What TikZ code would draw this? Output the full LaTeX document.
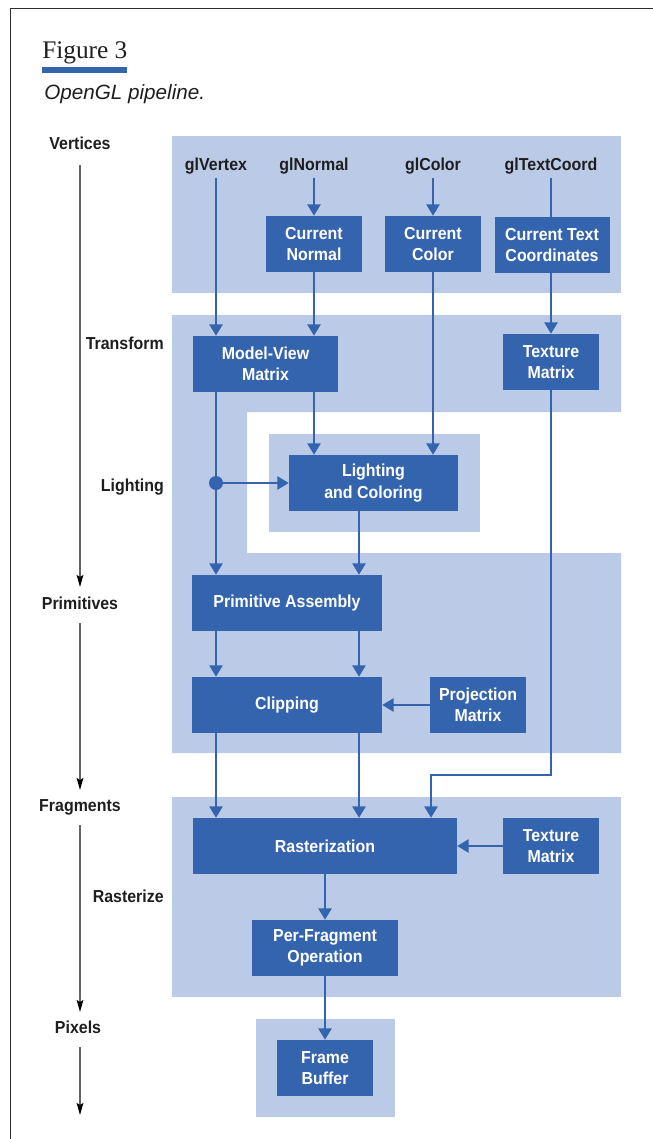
\documentclass[tikz,border=0pt]{standalone}
\usepackage{fontspec}
\setmainfont{Liberation Sans}
\newfontfamily\labfont{Liberation Sans}[FakeStretch=0.92]
\newfontfamily\serfont{Liberation Serif}
\usetikzlibrary{arrows.meta}
\definecolor{lblue}{RGB}{187,203,231}
\definecolor{dblue}{RGB}{53,100,174}
\definecolor{framec}{RGB}{45,45,45}
\definecolor{axisc}{RGB}{100,100,100}
\definecolor{txt}{RGB}{30,30,30}
\begin{document}
\begin{tikzpicture}[x=0.75pt,y=-0.75pt,
  bx/.style={fill=dblue,text=white,font=\labfont\bfseries\fontsize{13}{16}\selectfont,align=center,inner sep=0pt,minimum height=42pt},
  lab/.style={font=\labfont\bfseries\fontsize{13}{16}\selectfont,text=txt,inner sep=0pt},
  arr/.style={draw=dblue,line width=1pt,-{Triangle[width=10pt,length=8.5pt]}},
  ln/.style={draw=dblue,line width=1pt},
  axisarr/.style={draw=axisc,line width=1pt,-{Stealth[width=5pt,length=9pt,inset=1.5pt,color=black]}}
]
\useasboundingbox (0,0) rectangle (653,1139);
% frame
\draw[framec,line width=1.3pt] (653,8.5) -- (10.5,8.5) -- (10.5,1139);
% title
\node[anchor=base west,inner sep=0pt,font=\serfont\fontsize{19}{23}\selectfont,text=txt] (fig) at (42,58) {Figure 3};
\fill[dblue] (42,67) rectangle (127,72.5);
\node[anchor=base west,inner sep=0pt,font=\itshape\fontsize{15.5}{18}\selectfont,text=txt] (cap) at (44,99.5) {OpenGL pipeline.};
% panels
\fill[lblue] (172,136) rectangle (621,293);
\fill[lblue] (172,315) -- (621,315) -- (621,412) -- (247,412) -- (247,553) -- (621,553) -- (621,753) -- (172,753) -- cycle;
\fill[lblue] (269,434) rectangle (480,532);
\fill[lblue] (172,797) rectangle (621,997);
\fill[lblue] (256,1019) rectangle (395,1117);
% top labels
\node[lab,anchor=base] (gv) at (216,170.5) {glVertex};
\node[lab,anchor=base] (gn) at (314,170.5) {glNormal};
\node[lab,anchor=base] (gc) at (433,170.5) {glColor};
\node[lab,anchor=base] (gt) at (551,170.5) {glTextCoord};
% boxes
\node[bx,minimum width=72pt] (cn) at (314,244) {Current\\Normal};
\node[bx,minimum width=72pt] (cc) at (433,244) {Current\\Color};
\node[bx,minimum width=86.25pt] (ct) at (552,245) {Current Text\\Coordinates};
\node[bx,minimum width=108.75pt] (mv) at (265.5,364) {Model-View\\Matrix};
\node[bx,minimum width=72pt] (tma) at (551,362) {Texture\\Matrix};
\node[bx,minimum width=126.75pt] (lc) at (373.5,483) {Lighting\\and Coloring};
\node[bx,minimum width=142.5pt] (pa) at (287,603) {Primitive Assembly};
\node[bx,minimum width=142.5pt] (cl) at (287,705) {Clipping};
\node[bx,minimum width=72pt] (pm) at (478,705) {Projection\\Matrix};
\node[bx,minimum width=198pt] (ra) at (325,846) {Rasterization};
\node[bx,minimum width=72pt] (tmb) at (551,846) {Texture\\Matrix};
\node[bx,minimum width=109.5pt] (pf) at (325,948) {Per-Fragment\\Operation};
\node[bx,minimum width=72pt] (fb) at (325,1068) {Frame\\Buffer};
% helper coordinates
\coordinate (xr) at (359,0);
\coordinate (bend) at (431,775);
\node[circle,fill=dblue,minimum size=10.5pt,inner sep=0pt] (dot) at (216,483) {};
% connectors
\draw[arr,shorten <=2.5pt] (gv.south) -- (gv.south |- mv.north);
\draw[arr,shorten <=2.5pt] (gn.south) -- (gn.south |- cn.north);
\draw[arr] (cn.south) -- (cn.south |- mv.north);
\draw[arr,shorten <=2.5pt] (gc.south) -- (gc.south |- cc.north);
\draw[arr] (cc.south) -- (cc.south |- lc.north);
\draw[ln,shorten <=2.5pt] (gt.south) -- (gt.south |- ct.north);
\draw[arr] (tma.north |- ct.south) -- (tma.north);
\draw[arr] (tma.south) |- (bend) -- (bend |- ra.north);
\draw[arr] (gv |- mv.south) -- (gv |- pa.north);
\draw[arr] (dot) -- (dot -| lc.west);
\draw[arr] (cn |- mv.south) -- (cn |- lc.north);
\draw[arr] (xr |- lc.south) -- (xr |- pa.north);
\draw[arr] (gv |- pa.south) -- (gv |- cl.north);
\draw[arr] (xr |- pa.south) -- (xr |- cl.north);
\draw[arr] (pm.west) -- (cl.east);
\draw[arr] (gv |- cl.south) -- (gv |- ra.north);
\draw[arr] (xr |- cl.south) -- (xr |- ra.north);
\draw[arr] (tmb.west) -- (ra.east);
\draw[arr] (ra.south) -- (pf.north);
\draw[arr] (pf.south) -- (fb.north);
% left labels
\node[lab,anchor=base] (vl) at (80,149) {Vertices};
\node[lab,anchor=base east] (tl) at (164,349) {Transform};
\node[lab,anchor=base east] (ll) at (164,491) {Lighting};
\node[lab,anchor=base] (pl) at (80,609) {Primitives};
\node[lab,anchor=base] (fl) at (80,811) {Fragments};
\node[lab,anchor=base east] (rl) at (164,902) {Rasterize};
\node[lab,anchor=base] (xl) at (78,1033) {Pixels};
% axis
\coordinate (a0) at (80,165);
\coordinate (a1) at (80,587);
\coordinate (a2) at (80,623);
\coordinate (a3) at (80,790);
\coordinate (a4) at (80,825);
\coordinate (a5) at (80,1012);
\coordinate (a6) at (80,1047);
\coordinate (a7) at (80,1115);
\draw[axisarr] (a0) -- (a1);
\draw[axisarr] (a2) -- (a3);
\draw[axisarr] (a4) -- (a5);
\draw[axisarr] (a6) -- (a7);
\end{tikzpicture}
\end{document}
